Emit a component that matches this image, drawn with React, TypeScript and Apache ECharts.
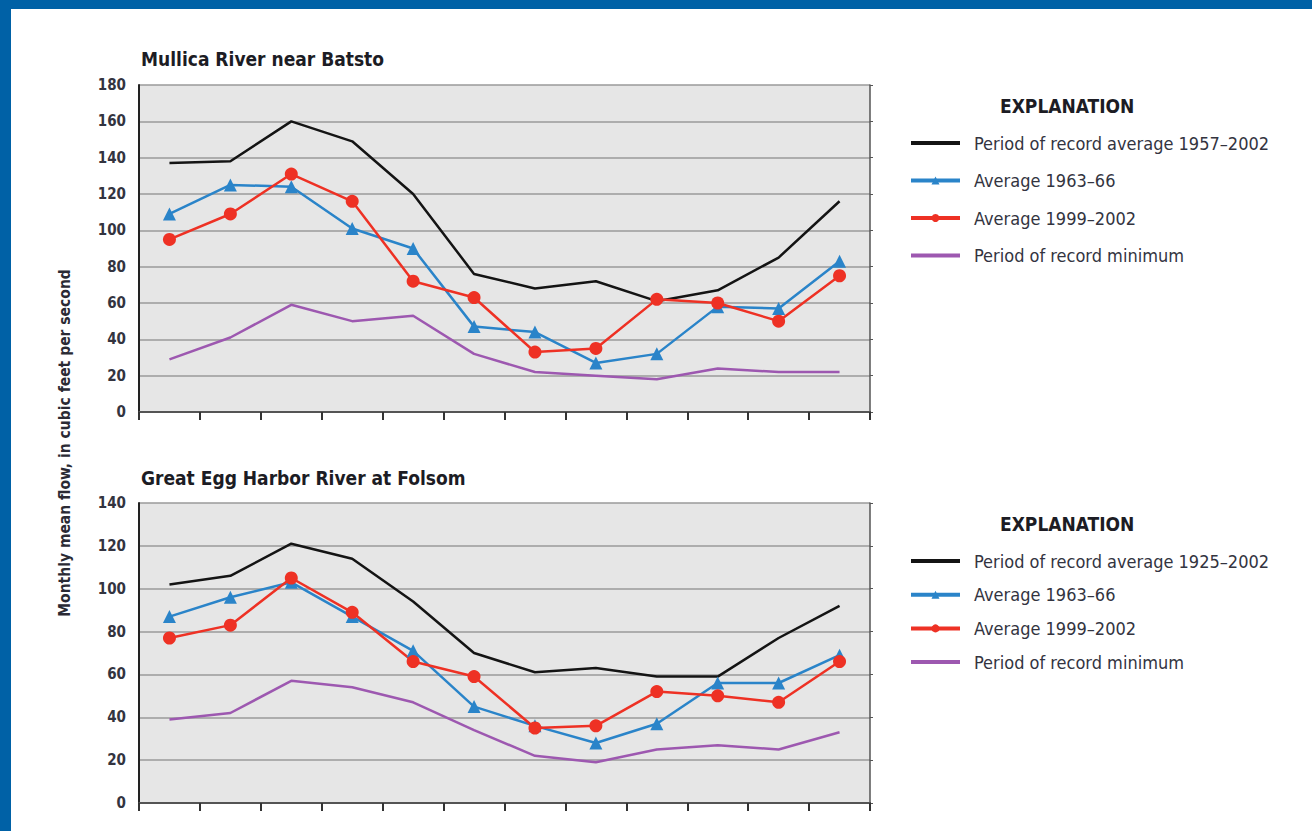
import React, { useEffect, useRef } from "react";
import * as echarts from "echarts";

const months = ["Jan", "Feb", "Mar", "Apr", "May", "Jun", "Jul", "Aug", "Sep", "Oct", "Nov", "Dec"];

// Mullica River near Batsto
const mullicaRecordAvg = [137, 138, 160, 149, 120, 76, 68, 72, 61, 67, 85, 116];
const mullica6366 = [109, 125, 124, 101, 90, 47, 44, 27, 32, 58, 57, 83];
const mullica9902 = [95, 109, 131, 116, 72, 63, 33, 35, 62, 60, 50, 75];
const mullicaMin = [29, 41, 59, 50, 53, 32, 22, 20, 18, 24, 22, 22];

// Great Egg Harbor River at Folsom
const eggRecordAvg = [102, 106, 121, 114, 94, 70, 61, 63, 59, 59, 77, 92];
const egg6366 = [87, 96, 103, 87, 71, 45, 36, 28, 37, 56, 56, 69];
const egg9902 = [77, 83, 105, 89, 66, 59, 35, 36, 52, 50, 47, 66];
const eggMin = [39, 42, 57, 54, 47, 34, 22, 19, 25, 27, 25, 33];

const topTitle = "Mullica River near Batsto";
const bottomTitle = "Great Egg Harbor River at Folsom";
const yAxisTitle = "Monthly mean flow, in cubic feet per second";
const topAvgName = "Period of record average 1957\u20132002";
const bottomAvgName = "Period of record average 1925\u20132002";
const name6366 = "Average 1963\u201366";
const name9902 = "Average 1999\u20132002";
const nameMin = "Period of record minimum";

const FONT = "'Liberation Sans Narrow', 'DejaVu Sans Condensed', 'Arial Narrow', sans-serif";
const BLACK = "#141414";
const BLUE = "#2a84c9";
const RED = "#ee3124";
const PURPLE = "#9d58b0";
const TEXT = "#33343f";

export default function App() {
  const ref = useRef<HTMLDivElement>(null);
  useEffect(() => {
    if (!ref.current) return;
    const chart = echarts.init(ref.current, null, { renderer: "svg" });

    const grids = [
      { left: 139, top: 85, width: 731, height: 327 },
      { left: 139, top: 503, width: 731, height: 300 },
    ];
    const yMax = [180, 140];

    const xAxes: any[] = [];
    const yAxes: any[] = [];
    [0, 1].forEach((g) => {
      xAxes.push({
        type: "category",
        gridIndex: g,
        data: months,
        boundaryGap: true,
        position: "bottom",
        axisLine: { show: true, lineStyle: { color: "#222", width: 2 } },
        axisTick: { show: true, inside: false, length: 7, lineStyle: { color: "#333", width: 2 } },
        axisLabel: { show: false },
        splitLine: { show: false },
      });
      xAxes.push({
        type: "category",
        gridIndex: g,
        data: months,
        boundaryGap: true,
        position: "top",
        axisLine: { show: true, lineStyle: { color: "#666", width: 1.5 } },
        axisTick: { show: true, inside: true, length: 8, lineStyle: { color: "#333", width: 2 } },
        axisLabel: { show: false },
        splitLine: { show: false },
      });
      yAxes.push({
        type: "value",
        gridIndex: g,
        min: 0,
        max: yMax[g],
        interval: 20,
        position: "left",
        axisLine: { show: true, lineStyle: { color: "#222", width: 2 } },
        axisTick: { show: false },
        axisLabel: { show: true, margin: 13, color: TEXT, fontFamily: FONT, fontSize: 15, fontWeight: "bold" },
        splitLine: { show: true, lineStyle: { color: "#9a9a9a", width: 1.5 } },
      });
      yAxes.push({
        type: "value",
        gridIndex: g,
        min: 0,
        max: yMax[g],
        interval: 20,
        position: "right",
        axisLine: { show: true, lineStyle: { color: "#555", width: 1.5 } },
        axisTick: { show: true, inside: false, length: 3, lineStyle: { color: "#555" } },
        axisLabel: { show: false },
        splitLine: { show: false },
      });
    });

    const mk = (name: string, data: number[], g: number, color: string, symbol: string, size: number) => ({
      type: "line",
      name,
      data,
      xAxisIndex: g * 2,
      yAxisIndex: g * 2,
      symbol,
      symbolSize: size,
      showSymbol: symbol !== "none",
      lineStyle: { color, width: 2.5 },
      itemStyle: { color },
      z: 3,
    });

    const series = [
      mk(topAvgName, mullicaRecordAvg, 0, BLACK, "none", 0),
      mk(name6366, mullica6366, 0, BLUE, "triangle", 13),
      mk(name9902, mullica9902, 0, RED, "circle", 13),
      mk(nameMin, mullicaMin, 0, PURPLE, "none", 0),
      mk(bottomAvgName, eggRecordAvg, 1, BLACK, "none", 0),
      mk(name6366, egg6366, 1, BLUE, "triangle", 13),
      mk(name9902, egg9902, 1, RED, "circle", 13),
      mk(nameMin, eggMin, 1, PURPLE, "none", 0),
    ];

    const noMarker = (name: string) => ({ name, itemStyle: { opacity: 0 } });

    const legendBase = {
      orient: "vertical",
      left: 909,
      padding: 0,
      itemWidth: 49,
      itemHeight: 10,
      selectedMode: false,
      lineStyle: { width: 4 },
      textStyle: { color: TEXT, fontFamily: FONT, fontSize: 18, lineHeight: 20, padding: [0, 0, 0, 9] },
    };

    chart.setOption({
      animation: false,
      backgroundColor: "#ffffff",
      title: [
        { text: topTitle, left: 141, top: 49, padding: 0, textStyle: { fontFamily: FONT, fontSize: 19, fontWeight: "bold", color: "#1c1c24" } },
        { text: bottomTitle, left: 141, top: 468, padding: 0, textStyle: { fontFamily: FONT, fontSize: 19, fontWeight: "bold", color: "#1c1c24" } },
        { text: "EXPLANATION", left: 1000, top: 96, padding: 0, textStyle: { fontFamily: FONT, fontSize: 19, fontWeight: "bold", color: "#1c1c24" } },
        { text: "EXPLANATION", left: 1000, top: 514, padding: 0, textStyle: { fontFamily: FONT, fontSize: 19, fontWeight: "bold", color: "#1c1c24" } },
      ],
      legend: [
        { ...legendBase, top: 133, itemGap: 17.5, data: [noMarker(topAvgName), name6366, name9902, noMarker(nameMin)] },
        { ...legendBase, top: 551, itemGap: 13.7, data: [noMarker(bottomAvgName), name6366, name9902, noMarker(nameMin)] },
      ],
      grid: grids.map((g) => ({ ...g, show: true, backgroundColor: "#e6e6e6", borderWidth: 0, containLabel: false })),
      xAxis: xAxes,
      yAxis: yAxes,
      series,
      graphic: [
        { type: "rect", shape: { x: 0, y: 0, width: 1312, height: 9 }, style: { fill: "#0061a6" }, z: 100 },
        { type: "rect", shape: { x: 0, y: 0, width: 11, height: 831 }, style: { fill: "#0061a6" }, z: 100 },
        {
          type: "text",
          x: 65,
          y: 443,
          rotation: Math.PI / 2,
          style: {
            text: yAxisTitle,
            textAlign: "center",
            textVerticalAlign: "middle",
            fontFamily: FONT,
            fontSize: 15.5,
            fontWeight: "bold",
            fill: "#2a2a34",
          },
        },
      ],
    });
    return () => chart.dispose();
  }, []);

  return (
    <div style={{ position: "fixed", left: 0, top: 0, width: 1312, height: 831 }}>
      <div ref={ref} style={{ width: 1312, height: 831 }} />
    </div>
  );
}
